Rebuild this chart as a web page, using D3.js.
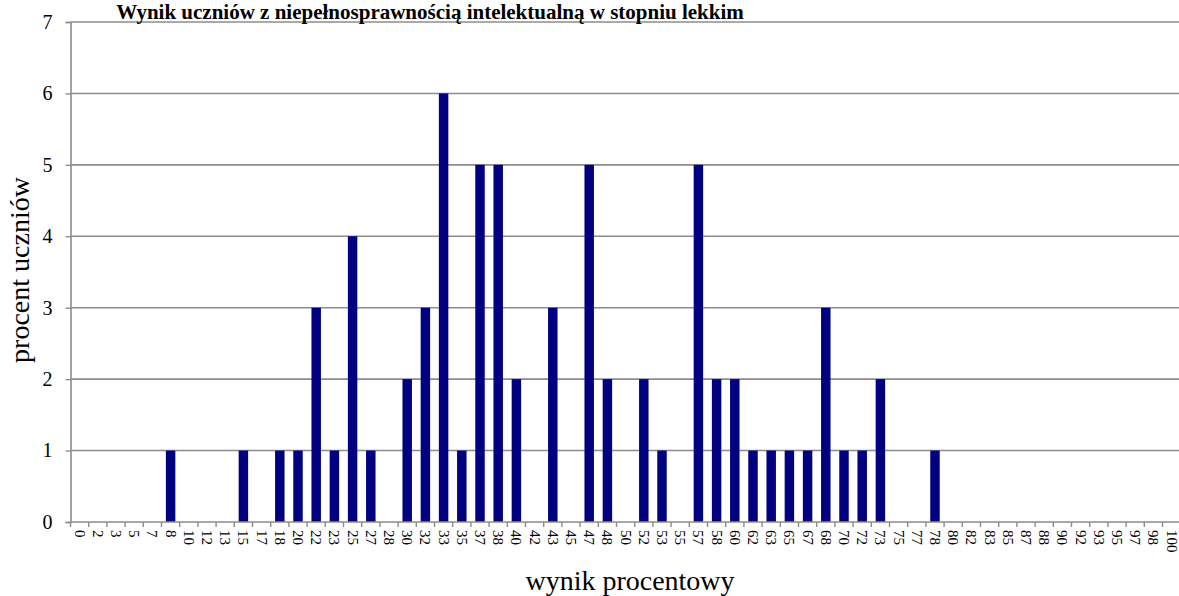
<!DOCTYPE html>
<html>
<head>
<meta charset="utf-8">
<script src="https://cdn.jsdelivr.net/npm/d3@7"></script>
<style>
  html, body { margin: 0; padding: 0; background: #fff; }
  svg { display: block; }
  svg text { font-family: "Liberation Serif", "Times New Roman", serif !important; fill: #000; }
</style>
</head>
<body>
<svg id="chart" width="1179" height="596"></svg>
<script>
// Score categories (percent result) shown on the x axis
const categories = ["0","2","3","5","7","8","10","12","13","15","17","18","20","22","23","25","27","28","30","32","33","35","37","38","40","42","43","45","47","48","50","52","53","55","57","58","60","62","63","65","67","68","70","72","73","75","77","78","80","82","83","85","87","88","90","92","93","95","97","98","100"];

// Non-zero shares of students (percent) per score category
const scoreKeys = ["8","15","18","20","22","23","25","27","30","32","33","35","37","38","40","43","47","48","52","53","57","58","60","62","63","65","67","68","70","72","73","78"];
const scoreValues = [1,1,1,1,3,1,4,1,2,3,6,1,5,5,2,3,5,2,2,1,5,2,2,1,1,1,1,3,1,1,2,1];

const yTicks = [0,1,2,3,4,5,6,7];

const titleText = "Wynik uczniów z niepełnosprawnością intelektualną w stopniu lekkim";
const xTitle = "wynik procentowy";
const yTitle = "procent uczniów";

const valueByKey = new Map(scoreKeys.map((k, i) => [k, scoreValues[i]]));
const data = categories.map(c => ({ cat: c, v: valueByKey.get(c) || 0 }));

const svg = d3.select("#chart");
const plotLeft = 70.5, plotTop = 22, plotBottom = 522;
const step = 18.2;
const plotRight = plotLeft + step * categories.length;
const gridColor = "#8c8c8c";

const x = d3.scaleBand().domain(categories).range([plotLeft, plotRight]).paddingInner(0.48).paddingOuter(0.24);
const y = d3.scaleLinear().domain([0, 7]).range([plotBottom, plotTop]);

// horizontal gridlines
svg.append("g").selectAll("line").data(yTicks.slice(1)).join("line")
  .attr("x1", plotLeft).attr("x2", 1179)
  .attr("y1", d => y(d)).attr("y2", d => y(d))
  .attr("stroke", gridColor).attr("stroke-width", 1.6);

// bars
svg.append("g").selectAll("rect").data(data.filter(d => d.v > 0)).join("rect")
  .attr("x", d => x(d.cat))
  .attr("width", x.bandwidth())
  .attr("y", d => y(d.v))
  .attr("height", d => y(0) - y(d.v))
  .attr("fill", "#000080");

// y axis
const yAxis = svg.append("g").attr("transform", `translate(${plotLeft},0)`)
  .call(d3.axisLeft(y).tickValues(yTicks).tickFormat(d3.format("d")).tickSize(5).tickPadding(13));
yAxis.attr("font-family", null);
yAxis.select(".domain").attr("stroke", gridColor).attr("stroke-width", 1.6);
yAxis.selectAll(".tick line").attr("stroke", gridColor).attr("stroke-width", 1.4);
yAxis.selectAll(".tick text").attr("font-size", 20).attr("fill", "#000");

// x axis baseline and boundary ticks
svg.append("line").attr("x1", plotLeft).attr("x2", 1179).attr("y1", plotBottom).attr("y2", plotBottom)
  .attr("stroke", gridColor).attr("stroke-width", 1.6);
const bounds = d3.range(categories.length + 1).map(i => plotLeft + i * step);
svg.append("g").selectAll("line").data(bounds).join("line")
  .attr("x1", d => d).attr("x2", d => d).attr("y1", plotBottom).attr("y2", plotBottom + 5)
  .attr("stroke", gridColor).attr("stroke-width", 1.4);

// x tick labels, rotated to read downward
svg.append("g").selectAll("text").data(categories).join("text")
  .attr("transform", d => `translate(${x(d) + x.bandwidth() / 2},${plotBottom + 8}) rotate(90)`)
  .attr("text-anchor", "start")
  .attr("dominant-baseline", "central")
  .attr("font-size", 15)
  .text(d => d);

// titles
svg.append("text").attr("x", 430).attr("y", 19).attr("text-anchor", "middle")
  .attr("font-size", 21).attr("font-weight", "bold").text(titleText);
svg.append("text").attr("x", 630).attr("y", 590).attr("text-anchor", "middle")
  .attr("font-size", 28).text(xTitle);
svg.append("text").attr("transform", "translate(29,270) rotate(-90)").attr("text-anchor", "middle")
  .attr("font-size", 28).text(yTitle);
</script>
</body>
</html>
